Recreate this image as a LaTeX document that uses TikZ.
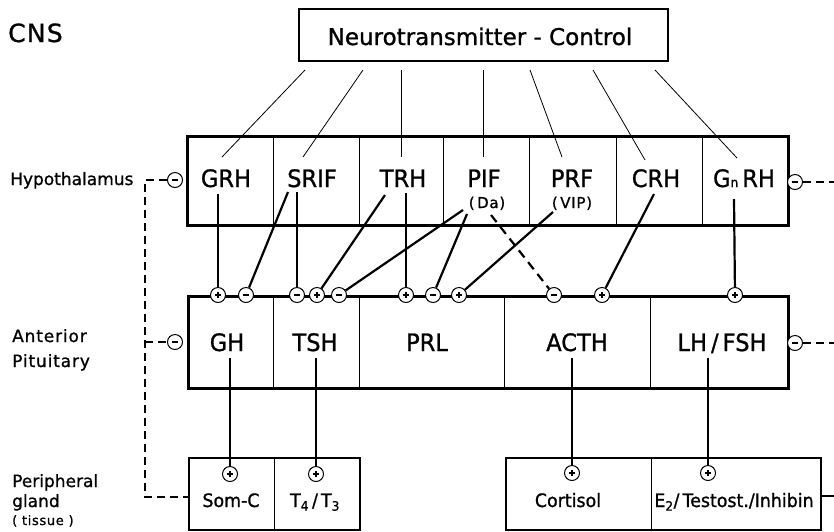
\documentclass[tikz,border=0pt]{standalone}
\usepackage{fontspec}
\setmainfont{DejaVu Sans}[FakeBold=1]
\newfontfamily\cnd{DejaVu Sans}[FakeStretch=0.94,FakeBold=1]
\newfontfamily\wide{DejaVu Sans}[LetterSpace=5,FakeBold=1]
\begin{document}
\begin{tikzpicture}[x=1pt,y=-1pt,
  box/.style={draw, line width=2.6pt, inner sep=0pt, anchor=north west},
  div/.style={line width=0.8pt},
  thinl/.style={line width=0.8pt},
  con/.style={line width=2.2pt},
  dcon/.style={line width=2.2pt, dash pattern=on 9pt off 6pt},
  fb/.style={line width=1.8pt, dash pattern=on 8pt off 5pt},
  sgn/.style={circle, draw, fill=white, line width=1pt, minimum size=15pt, inner sep=0pt},
  plusc/.style={sgn, path picture={
      \draw[line width=1.7pt] ([xshift=-3.2pt]path picture bounding box.center) -- ([xshift=3.2pt]path picture bounding box.center)
        ([yshift=-3.2pt]path picture bounding box.center) -- ([yshift=3.2pt]path picture bounding box.center);}},
  minusc/.style={sgn, path picture={
      \draw[line width=1.7pt] ([xshift=-3.4pt]path picture bounding box.center) -- ([xshift=3.4pt]path picture bounding box.center);}},
  hl/.style={font=\cnd\fontsize{24}{24}\selectfont, anchor=base, inner sep=0pt},
  sm/.style={font=\wide\fontsize{15}{15}\selectfont, anchor=base, inner sep=0pt},
  pl/.style={font=\cnd\fontsize{18.5}{18.5}\selectfont, anchor=base, inner sep=0pt},
  ll/.style={font=\fontsize{17}{17}\selectfont, anchor=base west, inner sep=0pt}
]
\useasboundingbox (0,0) rectangle (834,531);

% ---------- left labels ----------
\node[ll, font=\wide\fontsize{25}{25}\selectfont] (cns) at (8,42) {CNS};
\node[ll] (lhyp) at (10,185) {Hypothalamus};
\node[ll, font=\wide\fontsize{17}{17}\selectfont] (lant) at (12,342) {Anterior};
\node[ll, font=\wide\fontsize{17}{17}\selectfont] (lpit) at (12,367) {Pituitary};
\node[ll] (lper) at (12,487) {Peripheral};
\node[ll] (lgla) at (12,507) {gland};
\node[ll, font=\wide\fontsize{13}{13}\selectfont] (ltis) at (12,525) {( tissue )};

% ---------- top box ----------
\node[box, line width=2.2pt, minimum width=369pt, minimum height=52pt] (nt) at (298,8) {};
\node[anchor=base, inner sep=0pt, font=\fontsize{23}{23}\selectfont] (ntt) at (480,45) {Neurotransmitter - Control};

% ---------- boxes ----------
\node[box, minimum width=601pt, minimum height=89pt] (hyp) at (186,135) {};
\foreach \x in {273,359,443,529,616,702} \draw[div] (\x,135) -- (\x,224);
\node[box, minimum width=600pt, minimum height=92pt] (pit) at (187,295) {};
\foreach \x in {273,359,504,650} \draw[div] (\x,295) -- (\x,387);
\node[box, line width=2.4pt, minimum width=171pt, minimum height=72pt] (perl) at (188,457) {};
\draw[div] (274,457) -- (274,529);
\node[box, line width=2.4pt, minimum width=315pt, minimum height=72pt] (perr) at (505,457) {};
\draw[div] (651,457) -- (651,529);

% ---------- hypothalamus labels ----------
\node[hl] (grh) at (226,187) {GRH};
\node[hl] (srif) at (312,187) {SRIF};
\node[hl] (trh) at (403,187) {TRH};
\node[hl] (pif) at (484,187) {PIF};
\node[sm] (da) at (487,208) {(\,Da)};
\node[hl] (prf) at (572,187) {PRF};
\node[sm] (vip) at (572,208) {(\,VIP)};
\node[hl] (crh) at (656,187) {CRH};
\node[hl] (gnrh) at (744,187) {G{\fontsize{13}{13}\selectfont n}\,RH};

% ---------- pituitary labels ----------
\node[hl] (gh) at (227,351) {GH};
\node[hl] (tsh) at (315,351) {TSH};
\node[hl] (prl) at (427,351) {PRL};
\node[hl] (acth) at (577,351) {ACTH};
\node[hl] (lhfsh) at (722,351) {LH\,/\,FSH};

% ---------- peripheral labels ----------
\node[pl] (somc) at (231,507) {Som-C};
\node[pl] (t4) at (315,507) {T\textsubscript{4}\,/\,T\textsubscript{3}};
\node[pl] (cort) at (568,507) {Cortisol};
\node[pl] (e2) at (734,507) {E\textsubscript{2}/\,Testost./Inhibin};

% ---------- neurotransmitter lines ----------
\coordinate (n1) at (305,70);  \coordinate (h1) at (222,157);
\coordinate (n2) at (363,70);  \coordinate (h2) at (303,157);
\coordinate (n3) at (401,70);  \coordinate (h3) at (401,157);
\coordinate (n4) at (483,70);  \coordinate (h4) at (483,157);
\coordinate (n5) at (530,70);  \coordinate (h5) at (562,157);
\coordinate (n6) at (593,70);  \coordinate (h6) at (645,160);
\coordinate (n7) at (655,70);  \coordinate (h7) at (737,158);
\foreach \i in {1,...,7} \draw[thinl] (n\i) -- (h\i);

% ---------- sign circles on pituitary ----------
\node[plusc]  (c1)  at (218,295) {};
\node[minusc] (c2)  at (246,295) {};
\node[minusc] (c3)  at (297,295) {};
\node[plusc]  (c4)  at (317,295) {};
\node[minusc] (c5)  at (339,295) {};
\node[plusc]  (c6)  at (406,295) {};
\node[minusc] (c7)  at (433,295) {};
\node[plusc]  (c8)  at (459,295) {};
\node[minusc] (c9)  at (554,295) {};
\node[plusc]  (c10) at (602,295) {};
\node[plusc]  (c11) at (735,295) {};

% connector starts
\coordinate (s1)  at (218,194);
\coordinate (s2)  at (288,192);
\coordinate (s3)  at (297,192);
\coordinate (s4)  at (385,195);
\coordinate (s5)  at (463,210);
\coordinate (s6)  at (406,193);
\coordinate (s7)  at (467,214);
\coordinate (s8)  at (553,212);
\coordinate (s9)  at (491,215);
\coordinate (s10) at (654,194);
\coordinate (s11) at (734,199);
\foreach \i in {1,2,3,4,5,6,7,8,10,11} \draw[con] (s\i) -- (c\i);
\draw[dcon] (s9) -- (c9);

% ---------- pituitary -> periphery ----------
\node[plusc] (p1) at (230,474) {};
\node[plusc] (p2) at (316,474) {};
\node[plusc] (p3) at (572,473) {};
\node[plusc] (p4) at (708,473) {};
\coordinate (g1) at (230,358);
\coordinate (g2) at (316,358);
\coordinate (g3) at (572,358);
\coordinate (g4) at (708,358);
\foreach \i in {1,...,4} \draw[con] (g\i) -- (p\i);

% ---------- feedback ----------
\node[minusc] (fhl) at (175,180) {};
\node[minusc] (fpl) at (175,342) {};
\node[minusc] (fhr) at (795,182) {};
\node[minusc] (fpr) at (795,343) {};
\coordinate (lt) at (145,180);
\coordinate (lm) at (145,342);
\coordinate (lb) at (145,497);
\coordinate (pb) at (188,497);
\coordinate (rt) at (834,182);
\coordinate (rm) at (834,343);
\coordinate (rb) at (834,496);
\coordinate (pr) at (820,496);
\draw[fb] (fhl) -- (lt) -- (lb) -- (pb);
\draw[fb] (lm) -- (fpl);
\draw[fb] (fhr) -- (rt);
\draw[fb] (fpr) -- (rm);
\draw[line width=1.8pt] (pr) -- (rb);
\end{tikzpicture}
\end{document}
